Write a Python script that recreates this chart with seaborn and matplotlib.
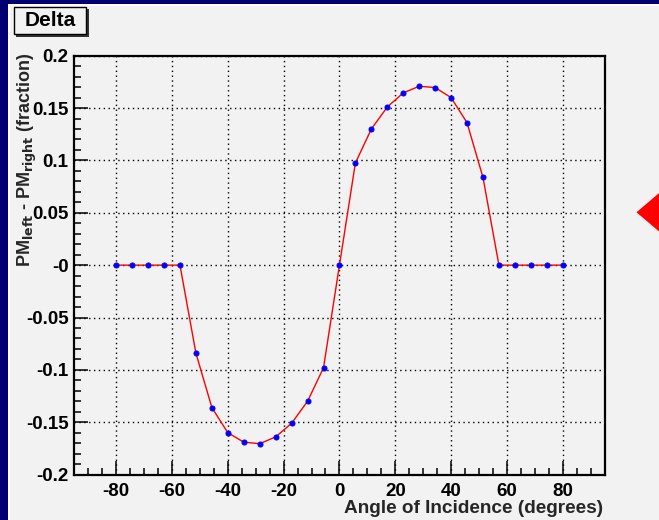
import matplotlib
matplotlib.use("Agg")
import matplotlib.pyplot as plt
import matplotlib.patches as mpatches
from matplotlib.ticker import FixedLocator, FixedFormatter, MultipleLocator
import seaborn as sns
import pandas as pd

# ---- data ----
angles = [-80, -74.29, -68.57, -62.86, -57.14, -51.43, -45.71, -40, -34.29, -28.57,
          -22.86, -17.14, -11.43, -5.71, 0, 5.71, 11.43, 17.14, 22.86, 28.57,
          34.29, 40, 45.71, 51.43, 57.14, 62.86, 68.57, 74.29, 80]
delta = [0, 0, 0, 0, 0, -0.084, -0.136, -0.160, -0.169, -0.1705,
         -0.164, -0.151, -0.130, -0.098, 0, 0.0975, 0.130, 0.151, 0.1645, 0.1708,
         0.1696, 0.160, 0.136, 0.0837, 0, 0, 0, 0, 0]
x_ticks = [-80, -60, -40, -20, 0, 20, 40, 60, 80]
x_tick_labels = ["-80", "-60", "-40", "-20", "0", "20", "40", "60", "80"]
y_ticks = [0.2, 0.15, 0.1, 0.05, 0.0, -0.05, -0.1, -0.15, -0.2]
y_tick_labels = ["0.2", "0.15", "0.1", "0.05", "-0", "-0.05", "-0.1", "-0.15", "-0.2"]
title = "Delta"
x_label = "Angle of Incidence (degrees)"
y_label = r"PM$_{\mathbf{left}}$ - PM$_{\mathbf{right}}$ (fraction)"

df = pd.DataFrame({"angle": angles, "delta": delta})

sns.set_theme(style="white")
plt.rcParams["font.family"] = ["Liberation Sans", "DejaVu Sans"]
plt.rcParams["font.weight"] = "bold"
plt.rcParams["mathtext.default"] = "bf"

W, H = 659, 520
fig = plt.figure(figsize=(W / 100, H / 100), dpi=100)
fig.patch.set_facecolor("#f2f2f2")

def px_rect(x0, y0, x1, y1, **kw):
    r = mpatches.Rectangle((x0 / W, 1 - y1 / H), (x1 - x0) / W, (y1 - y0) / H,
                           transform=fig.transFigure, **kw)
    fig.patches.append(r)
    return r

# navy border strips
navy = "#000070"
px_rect(0, 0, W, 4, facecolor=navy, edgecolor="none", zorder=0)
px_rect(0, 0, 8, H, facecolor=navy, edgecolor="none", zorder=0)
px_rect(8, 4, W, 6, facecolor="white", edgecolor="none", zorder=0)
px_rect(8, 4, 10, H, facecolor="white", edgecolor="none", zorder=0)

# axes
l, r_, t, b = 74.3, 604.6, 55.7, 474.6
ax = fig.add_axes([l / W, 1 - b / H, (r_ - l) / W, (b - t) / H])
ax.set_facecolor("#f2f2f2")

sns.lineplot(data=df, x="angle", y="delta", ax=ax, color="red", linewidth=1.0,
             marker="o", markersize=3.6, markerfacecolor="blue",
             markeredgecolor="blue", zorder=3)

ax.set_xlim(-95, 95)
ax.set_ylim(-0.2, 0.2)
ax.xaxis.set_major_locator(FixedLocator(x_ticks))
ax.xaxis.set_major_formatter(FixedFormatter(x_tick_labels))
ax.xaxis.set_minor_locator(MultipleLocator(5))
ax.yaxis.set_major_locator(FixedLocator(y_ticks))
ax.yaxis.set_major_formatter(FixedFormatter(y_tick_labels))
ax.yaxis.set_minor_locator(MultipleLocator(0.01))

ax.tick_params(axis="both", which="both", direction="in", colors="black",
               bottom=True, left=True, top=False, right=False)
ax.tick_params(axis="both", which="major", length=10, width=1.1, labelsize=13.5)
ax.tick_params(axis="both", which="minor", length=5, width=1.1)
ax.tick_params(axis="x", which="major", pad=6)
ax.tick_params(axis="y", which="major", pad=4)
for lab in ax.get_xticklabels() + ax.get_yticklabels():
    lab.set_fontweight("bold")

ax.grid(True, which="major", color="black", linestyle=(0, (1, 2.5)), linewidth=1.0)
ax.set_axisbelow(True)
for s in ax.spines.values():
    s.set_color("black")
    s.set_linewidth(1.6)

ax.set_xlabel(x_label, fontsize=13.7, fontweight="bold", loc="right")
ax.xaxis.set_label_coords(0.998, -0.060)
ax.xaxis.label.set_va("top")
ax.set_ylabel(y_label, fontsize=13, fontweight="bold", loc="top")
ax.yaxis.set_label_coords(-0.066, 1.006)

# title box with shadow
px_rect(16, 9, 89, 37, facecolor="#333333", edgecolor="none", zorder=1)
px_rect(14, 7, 86, 34, facecolor="#f2f2f2", edgecolor="black", linewidth=1.0, zorder=2)
fig.text(50 / W, 1 - 21 / H, title, ha="center", va="center", fontsize=15,
         fontweight="bold", color="black", zorder=3)

# red triangle at right edge
tri = mpatches.Polygon([(636.5 / W, 1 - 212.3 / H), (665 / W, 1 - 188 / H),
                        (665 / W, 1 - 236.5 / H)], closed=True,
                       transform=fig.transFigure, facecolor="red", edgecolor="none")
fig.patches.append(tri)

fig.savefig("out.png", dpi=100, facecolor=fig.get_facecolor())
